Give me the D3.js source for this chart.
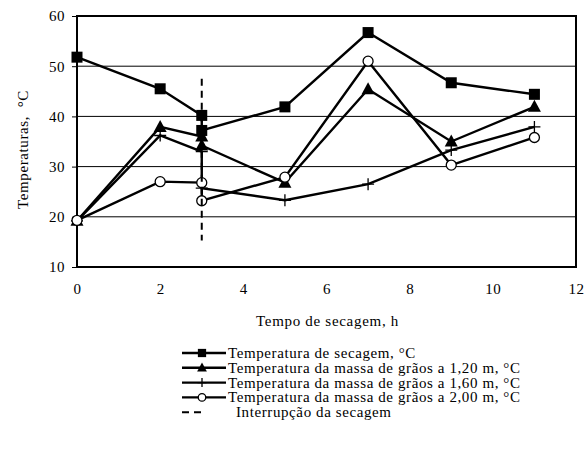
<!DOCTYPE html>
<html>
<head>
<meta charset="utf-8">
<script src="https://cdn.jsdelivr.net/npm/d3@7"></script>
<style>
  html, body { margin: 0; padding: 0; background: #fff; }
  svg { display: block; }
  text { font-family: "Liberation Serif", "Times New Roman", serif; fill: #000; }
</style>
</head>
<body>
<svg id="chart" width="584" height="468"></svg>
<script>
// Drying time (h) and temperatures (°C); x = 3 appears twice where drying was interrupted
const tempoSecagem   = [0, 2, 3, 3, 5, 7, 9, 11];
const tempSecagem    = [51.8, 45.5, 40.2, 37.2, 41.9, 56.7, 46.7, 44.4];
const tempMassa120   = [19.2, 37.9, 36.0, 34.2, 26.8, 45.4, 35.0, 41.9];
const tempMassa160   = [19.2, 36.2, 33.0, 25.7, 23.3, 26.5, 33.3, 37.9];
const tempMassa200   = [19.3, 27.0, 26.8, 23.2, 27.9, 51.0, 30.3, 35.8];
// Vertical marker for the drying interruption
const interrupcaoX   = 3;
const interrupcaoY   = [15.3, 47.5];

const xTicks = [0, 2, 4, 6, 8, 10, 12];
const yTicks = [10, 20, 30, 40, 50, 60];
const gridTicks = [20, 30, 40, 50];

const seriesNames = [
  "Temperatura de secagem, °C",
  "Temperatura da massa de grãos a 1,20 m, °C",
  "Temperatura da massa de grãos a 1,60 m, °C",
  "Temperatura da massa de grãos a 2,00 m, °C"
];
const interrupcaoName = "Interrupção da secagem";
const markerTypes = ["square", "triangle", "plus", "circle"];
const seriesValues = [tempSecagem, tempMassa120, tempMassa160, tempMassa200];

const svg = d3.select("#chart");
const plotL = 77, plotR = 576, plotT = 16, plotB = 267;
const x = d3.scaleLinear().domain([0, 12]).range([plotL, plotR]);
const y = d3.scaleLinear().domain([10, 60]).range([plotB, plotT]);

const fontPx = "15px";
const spacing = "0.6px";

// Horizontal gridlines
svg.append("g").selectAll("line").data(gridTicks).join("line")
  .attr("x1", plotL).attr("x2", plotR)
  .attr("y1", d => y(d)).attr("y2", d => y(d))
  .attr("stroke", "#000").attr("stroke-width", 1);

// Y axis ticks and labels
const yAxis = svg.append("g").attr("transform", `translate(${plotL},0)`)
  .call(d3.axisLeft(y).tickValues(yTicks).tickSize(5).tickPadding(7).tickFormat(d3.format("d")));
yAxis.select(".domain").remove();
yAxis.selectAll("line").attr("stroke", "#000");
yAxis.selectAll("text").style("font-size", fontPx).style("letter-spacing", "0.5px")
  .style("font-family", "Liberation Serif");

// X axis labels
const xAxis = svg.append("g").attr("transform", `translate(0,${plotB})`)
  .call(d3.axisBottom(x).tickValues(xTicks).tickSize(0).tickPadding(16).tickFormat(d3.format("d")));
xAxis.select(".domain").remove();
xAxis.selectAll("text").style("font-size", fontPx).style("letter-spacing", "0.5px")
  .style("font-family", "Liberation Serif");

// Plot frame
svg.append("rect")
  .attr("x", plotL).attr("y", plotT)
  .attr("width", plotR - plotL).attr("height", plotB - plotT)
  .attr("fill", "none").attr("stroke", "#000").attr("stroke-width", 2);

// Axis titles
svg.append("text")
  .attr("transform", `translate(28,${(plotT + plotB) / 2 + 8}) rotate(-90)`)
  .attr("text-anchor", "middle")
  .style("font-size", fontPx)
  .style("letter-spacing", spacing)
  .style("white-space", "pre")
  .text("Temperaturas,  °C");

svg.append("text")
  .attr("x", (plotL + plotR) / 2 + 1).attr("y", 326)
  .attr("text-anchor", "middle")
  .style("font-size", fontPx)
  .style("letter-spacing", "0.7px")
  .text("Tempo de secagem, h");

// Marker drawing (s scales the marker size)
function drawMarker(g, type, cx, cy, s = 1) {
  if (type === "square") {
    g.append("rect").attr("x", cx - 5.5 * s).attr("y", cy - 5.5 * s)
      .attr("width", 11 * s).attr("height", 11 * s).attr("fill", "#000");
  } else if (type === "triangle") {
    g.append("path")
      .attr("d", `M${cx},${cy - 7 * s}L${cx + 6.5 * s},${cy + 5 * s}L${cx - 6.5 * s},${cy + 5 * s}Z`)
      .attr("fill", "#000");
  } else if (type === "plus") {
    g.append("path")
      .attr("d", `M${cx - 6 * s},${cy}H${cx + 6 * s}M${cx},${cy - 6 * s}V${cy + 6 * s}`)
      .attr("stroke", "#000").attr("stroke-width", 1.3).attr("fill", "none");
  } else if (type === "circle") {
    g.append("circle").attr("cx", cx).attr("cy", cy).attr("r", 5 * s)
      .attr("fill", "#fff").attr("stroke", "#000").attr("stroke-width", 1.3);
  }
}

const line = d3.line().x(d => x(d[0])).y(d => y(d[1]));

// Series lines and markers
seriesValues.forEach((vals, i) => {
  const pts = tempoSecagem.map((t, k) => [t, vals[k]]);
  const g = svg.append("g");
  g.append("path").datum(pts).attr("d", line)
    .attr("fill", "none").attr("stroke", "#000").attr("stroke-width", 2.4)
    .attr("stroke-linejoin", "miter");
  pts.forEach(p => drawMarker(g, markerTypes[i], x(p[0]), y(p[1])));
});

// Drying interruption line
svg.append("line")
  .attr("x1", x(interrupcaoX)).attr("x2", x(interrupcaoX))
  .attr("y1", y(interrupcaoY[1])).attr("y2", y(interrupcaoY[0]))
  .attr("stroke", "#000").attr("stroke-width", 2).attr("stroke-dasharray", "7,5");

// Legend
const legend = svg.append("g");
const legX0 = 182, legX1 = 226, legTextX = 228, legY0 = 353, legDy = 14.8;
seriesNames.forEach((name, i) => {
  const ly = legY0 + i * legDy;
  legend.append("line").attr("x1", legX0).attr("x2", legX1).attr("y1", ly).attr("y2", ly)
    .attr("stroke", "#000").attr("stroke-width", 2.4);
  drawMarker(legend, markerTypes[i], (legX0 + legX1) / 2 - 2, ly, 0.75);
  legend.append("text").attr("x", legTextX).attr("y", ly + 5)
    .style("font-size", fontPx).style("letter-spacing", spacing).text(name);
});
{
  const ly = legY0 + 4 * legDy;
  legend.append("line").attr("x1", legX0).attr("x2", legX1 - 20).attr("y1", ly).attr("y2", ly)
    .attr("stroke", "#000").attr("stroke-width", 2).attr("stroke-dasharray", "7,5");
  legend.append("text").attr("x", legTextX + 8).attr("y", ly + 5)
    .style("font-size", fontPx).style("letter-spacing", spacing).text(interrupcaoName);
}
</script>
</body>
</html>
